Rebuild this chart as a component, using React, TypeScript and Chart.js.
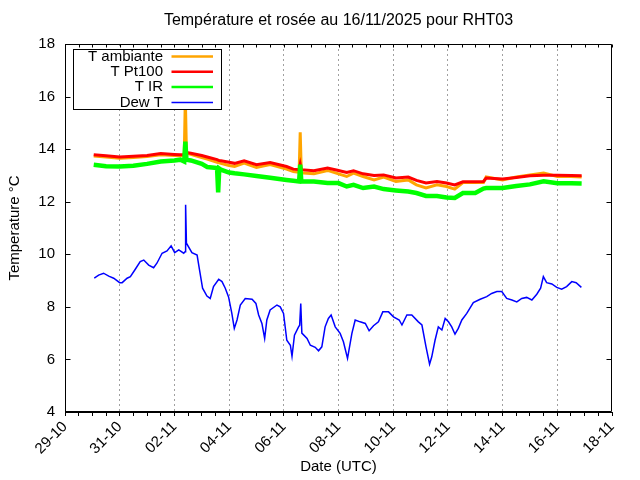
import React, { useEffect, useRef } from 'react';
import { Chart, registerables } from 'chart.js';

Chart.register(...registerables);

const TITLE = 'Température et rosée au 16/11/2025 pour RHT03';
const X_TITLE = 'Date (UTC)';
const Y_TITLE = 'Temperature °C';

// x axis: days counted from 29-10 00:00 UTC, labels every 2 days
const xTickLabels = ['29-10', '31-10', '02-11', '04-11', '06-11', '08-11', '10-11', '12-11', '14-11', '16-11', '18-11'];
const X_MIN = 0;
const X_MAX = 20;
const Y_MIN = 4;
const Y_MAX = 18;
const Y_STEP = 2;

const seriesLabels = ['T ambiante', 'T Pt100', 'T IR', 'Dew T'];
const seriesColors = ['#ffa500', '#ff0000', '#00ff00', '#0000ff'];

const tempDays = [
  1.05, 1.5, 2.0, 2.5, 3.0, 3.5, 4.0, 4.22, 4.36, 4.40, 4.44, 4.6, 5.0, 5.2, 5.56, 5.60, 5.64, 5.7,
  6.0, 6.2, 6.55, 7.0, 7.5, 8.1, 8.35, 8.56, 8.60, 8.64, 9.1, 9.6, 10.0, 10.3, 10.55, 10.9, 11.3,
  11.65, 12.1, 12.55, 12.85, 13.2, 13.6, 13.95, 14.25, 14.55, 15.0, 15.3, 15.4, 16.0, 16.5, 17.0,
  17.5, 18.0, 18.5, 18.89,
];
const ambientValues = [
  13.74, 13.70, 13.65, 13.68, 13.72, 13.79, 13.76, 13.75, 13.76, 15.95, 13.85, 13.80, 13.68, 13.62,
  13.50, 13.49, 13.48, 13.46, 13.38, 13.34, 13.47, 13.30, 13.41, 13.24, 13.15, 13.12, 14.64, 13.10,
  13.06, 13.19, 13.06, 12.96, 13.09, 12.96, 12.83, 12.94, 12.77, 12.83, 12.64, 12.52, 12.64, 12.58,
  12.48, 12.73, 12.73, 12.73, 12.94, 12.83, 12.94, 13.02, 13.09, 12.96, 12.96, 12.94,
];
const pt100Values = [
  13.79, 13.75, 13.70, 13.73, 13.76, 13.83, 13.80, 13.79, 13.80, 13.92, 13.87, 13.84, 13.76, 13.70,
  13.60, 13.58, 13.57, 13.56, 13.50, 13.46, 13.56, 13.41, 13.49, 13.34, 13.24, 13.22, 13.42, 13.22,
  13.18, 13.28, 13.19, 13.11, 13.18, 13.06, 13.00, 13.02, 12.90, 12.94, 12.81, 12.71, 12.77, 12.71,
  12.64, 12.76, 12.76, 12.77, 12.90, 12.86, 12.92, 12.99, 13.01, 13.01, 13.00, 12.99,
];
const irValues = [
  13.41, 13.35, 13.34, 13.37, 13.44, 13.53, 13.57, 13.60, 13.53, 14.29, 13.60, 13.57, 13.44, 13.32,
  13.28, 12.35, 13.26, 13.22, 13.11, 13.08, 13.04, 12.98, 12.91, 12.83, 12.80, 12.77, 13.41, 12.77,
  12.77, 12.71, 12.71, 12.58, 12.64, 12.52, 12.58, 12.48, 12.43, 12.39, 12.33, 12.22, 12.22, 12.16,
  12.14, 12.33, 12.33, 12.50, 12.52, 12.52, 12.60, 12.66, 12.78, 12.70, 12.70, 12.69,
];

const dewDays = [
  1.07, 1.23, 1.41, 1.60, 1.78, 2.00, 2.09, 2.27, 2.39, 2.57, 2.75, 2.88, 3.06, 3.24, 3.36, 3.55,
  3.73, 3.88, 4.01, 4.16, 4.34, 4.39, 4.41, 4.44, 4.64, 4.83, 4.92, 5.03, 5.19, 5.31, 5.43, 5.62,
  5.74, 5.86, 5.98, 6.10, 6.19, 6.29, 6.41, 6.59, 6.84, 6.98, 7.08, 7.20, 7.30, 7.38, 7.50, 7.75,
  7.87, 7.99, 8.11, 8.24, 8.30, 8.39, 8.54, 8.58, 8.62, 8.66, 8.85, 8.97, 9.15, 9.27, 9.39, 9.51,
  9.63, 9.73, 9.88, 10.06, 10.18, 10.33, 10.49, 10.61, 10.79, 10.98, 11.12, 11.28, 11.46, 11.62,
  11.83, 12.01, 12.22, 12.32, 12.50, 12.68, 12.92, 13.05, 13.20, 13.33, 13.41, 13.53, 13.65, 13.78,
  13.90, 14.02, 14.14, 14.26, 14.38, 14.51, 14.69, 14.93, 15.18, 15.42, 15.60, 15.79, 15.97, 16.15,
  16.34, 16.52, 16.70, 16.88, 17.07, 17.25, 17.39, 17.49, 17.61, 17.80, 17.98, 18.16, 18.34, 18.53,
  18.69, 18.88,
];
const dewValues = [
  9.09, 9.21, 9.28, 9.17, 9.09, 8.92, 8.92, 9.09, 9.15, 9.43, 9.72, 9.78, 9.59, 9.49, 9.66, 10.04,
  10.13, 10.32, 10.06, 10.17, 10.04, 10.10, 11.88, 10.42, 10.06, 9.97, 9.40, 8.71, 8.41, 8.32, 8.77, 9.05,
  8.96, 8.71, 8.38, 7.75, 7.18, 7.50, 8.07, 8.32, 8.29, 8.13, 7.69, 7.37, 6.80, 7.50, 7.88, 8.07,
  8.00, 7.75, 6.73, 6.54, 6.12, 6.92, 7.24, 7.30, 8.13, 7.00, 6.80, 6.54, 6.46, 6.33, 6.48, 7.24,
  7.56, 7.69, 7.24, 6.99, 6.67, 6.04, 6.99, 7.50, 7.43, 7.37, 7.09, 7.28, 7.43, 7.81,
  7.81, 7.62, 7.50, 7.31, 7.69, 7.69, 7.43, 7.31, 6.48, 5.82, 6.10, 6.73, 7.24, 7.12,
  7.56, 7.43, 7.24, 6.96, 7.18, 7.50, 7.75, 8.16, 8.29, 8.39, 8.51, 8.58, 8.58, 8.32,
  8.26, 8.19, 8.32, 8.36, 8.26, 8.48, 8.71, 9.15, 8.92, 8.87, 8.74, 8.67, 8.77, 8.96,
  8.92, 8.74,
];

const FONT = '"Liberation Sans", Arial, Helvetica, sans-serif';

const toPoints = (xs: number[], ys: number[]) => xs.map((x, i) => ({ x, y: ys[i] }));

const framePlugin = {
  id: 'gnuFrame',
  afterDraw(chart: any) {
    const { ctx, chartArea: a, scales } = chart;
    const x = scales.x;
    const y = scales.y;
    const L = Math.round(a.left) + 0.5;
    const R = Math.round(a.right) - 0.5;
    const T = Math.round(a.top) + 0.5;
    const B = Math.round(a.bottom) - 0.5;
    ctx.save();
    ctx.setLineDash([]);
    ctx.strokeStyle = '#000';
    ctx.lineWidth = 1;
    ctx.beginPath();
    ctx.rect(L, T, R - L, B - T);
    // inward y ticks (left and right)
    y.ticks.forEach((t: any) => {
      const py = Math.round(y.getPixelForValue(t.value)) + 0.5;
      ctx.moveTo(L, py);
      ctx.lineTo(L + 5, py);
      ctx.moveTo(R, py);
      ctx.lineTo(R - 5, py);
    });
    // inward top ticks
    x.ticks.forEach((t: any) => {
      const px = Math.round(x.getPixelForValue(t.value)) + 0.5;
      ctx.moveTo(px, T);
      ctx.lineTo(px, T + 3);
    });
    ctx.stroke();
    ctx.restore();
  },
};

const legendPlugin = {
  id: 'boxLegend',
  afterDraw(chart: any) {
    const { ctx, chartArea: a } = chart;
    const ds = chart.data.datasets;
    const left = Math.round(a.left + 8) + 0.5;
    const top = Math.round(a.top + 5) + 0.5;
    const w = 148;
    const h = 60;
    ctx.save();
    ctx.setLineDash([]);
    ctx.fillStyle = '#fff';
    ctx.fillRect(left, top, w, h);
    ctx.strokeStyle = '#000';
    ctx.lineWidth = 1;
    ctx.strokeRect(left, top, w, h);
    ctx.font = `15px ${FONT}`;
    ctx.textAlign = 'right';
    ctx.textBaseline = 'middle';
    ds.forEach((d: any, i: number) => {
      const cy = top + 7 + i * 15.3;
      ctx.fillStyle = '#000';
      ctx.fillText(d.label, left + 89.5, cy);
      ctx.strokeStyle = d.borderColor;
      ctx.lineWidth = Math.min(d.borderWidth, 2.5);
      ctx.beginPath();
      ctx.moveTo(left + 98, cy);
      ctx.lineTo(left + 139.5, cy);
      ctx.stroke();
    });
    ctx.restore();
  },
};

export default function App() {
  const canvasRef = useRef<HTMLCanvasElement | null>(null);

  useEffect(() => {
    if (!canvasRef.current) return;
    Chart.defaults.font.family = FONT;
    Chart.defaults.color = '#000';
    const chart = new Chart(canvasRef.current, {
      type: 'line',
      data: {
        datasets: [
          {
            label: seriesLabels[0],
            data: toPoints(tempDays, ambientValues),
            borderColor: seriesColors[0],
            backgroundColor: seriesColors[0],
            borderWidth: 3,
            pointRadius: 0,
            order: 3,
          },
          {
            label: seriesLabels[1],
            data: toPoints(tempDays, pt100Values),
            borderColor: seriesColors[1],
            backgroundColor: seriesColors[1],
            borderWidth: 3,
            pointRadius: 0,
            order: 2,
          },
          {
            label: seriesLabels[2],
            data: toPoints(tempDays, irValues),
            borderColor: seriesColors[2],
            backgroundColor: seriesColors[2],
            borderWidth: 4.5,
            pointRadius: 0,
            order: 1,
          },
          {
            label: seriesLabels[3],
            data: toPoints(dewDays, dewValues),
            borderColor: seriesColors[3],
            backgroundColor: seriesColors[3],
            borderWidth: 1.5,
            pointRadius: 0,
            order: 0,
          },
        ],
      },
      options: {
        animation: false,
        responsive: false,
        devicePixelRatio: 1,
        layout: { padding: { left: 0, right: 28, top: 0, bottom: 0 } },
        plugins: {
          legend: { display: false },
          tooltip: { enabled: false },
          title: {
            display: true,
            text: TITLE,
            fullSize: false,
            color: '#000',
            font: { size: 16, weight: 'normal', family: FONT },
            padding: { top: 11, bottom: 13.8 },
          },
        },
        scales: {
          x: {
            type: 'linear',
            min: X_MIN,
            max: X_MAX,
            afterFit: (s: any) => {
              s.height = 68;
            },
            ticks: {
              stepSize: 0.5,
              maxTicksLimit: 100,
              autoSkip: false,
              minRotation: 45,
              maxRotation: 45,
              color: '#000',
              font: { size: 15, family: FONT },
              padding: 2,
              callback: (v: any) => {
                const d = Number(v);
                return Number.isInteger(d) && d % 2 === 0 ? xTickLabels[d / 2] : '';
              },
            },
            grid: {
              drawOnChartArea: true,
              color: (c: any) => {
                const v = c.tick ? c.tick.value : 0;
                return v % 2 === 0 && v > X_MIN && v < X_MAX ? '#a0a0a0' : 'rgba(0,0,0,0)';
              },
              tickColor: '#000',
              tickLength: 4,
              tickBorderDash: [],
              lineWidth: 1,
            },
            border: { display: true, color: '#000', width: 1, dash: [2, 3] },
            title: {
              display: true,
              text: X_TITLE,
              color: '#000',
              font: { size: 15, family: FONT },
              padding: { top: 0, bottom: 4 },
            },
          },
          y: {
            type: 'linear',
            min: Y_MIN,
            max: Y_MAX,
            afterFit: (s: any) => {
              s.width = 65;
            },
            ticks: {
              stepSize: Y_STEP,
              color: '#000',
              font: { size: 15, family: FONT },
              padding: 10,
            },
            grid: { drawOnChartArea: false, drawTicks: false },
            border: { display: true, color: '#000', width: 1 },
            title: {
              display: true,
              text: Y_TITLE,
              color: '#000',
              font: { size: 15, family: FONT },
              padding: { top: 6, bottom: 0 },
            },
          },
        },
      },
      plugins: [framePlugin, legendPlugin],
    } as any);
    return () => chart.destroy();
  }, []);

  return (
    <div style={{ position: 'fixed', left: 0, top: 0, width: 640, height: 480, background: '#fff' }}>
      <canvas ref={canvasRef} width={640} height={480} />
    </div>
  );
}
